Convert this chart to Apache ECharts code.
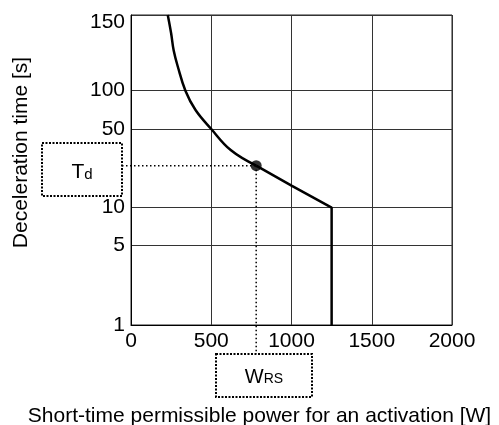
<!DOCTYPE html>
<html>
<head>
<meta charset="utf-8">
<script src="https://cdn.jsdelivr.net/npm/echarts@6/dist/echarts.min.js"></script>
<style>
html,body{margin:0;padding:0;background:#fff;}
#chart{width:499px;height:425px;}
</style>
</head>
<body>
<div id="chart"></div>
<script>
// ---- data ----
const xTicks = [0, 500, 1000, 1500, 2000];
const yTicks = [1, 5, 10, 50, 100, 150];
// curved part of the characteristic (W, s)
const curvePower = [229, 250, 266, 291, 339, 402, 500, 621, 780];
const curveTime  = [150, 136, 124, 114, 100, 70.5, 50, 32.5, 23.6];
// straight tail down to the power limit
const tailPower = [780, 1000, 1250, 1250];
const tailTime  = [23.6, 15.7, 10, 1];
// operating point
const pointPower = [780];
const pointTime  = [23.6];

// ---- custom (piecewise-log) y scale of the original figure ----
const scaleV = [1, 5, 10, 50, 100, 150];
const scaleP = [0, 79.7, 117.3, 196, 234.3, 310];
function tr(v) {
  let i = 0;
  while (i < scaleV.length - 2 && v > scaleV[i + 1]) i++;
  const f = (Math.log(v) - Math.log(scaleV[i])) / (Math.log(scaleV[i + 1]) - Math.log(scaleV[i]));
  return scaleP[i] + (scaleP[i + 1] - scaleP[i]) * f;
}
function pairs(xs, ys) { return xs.map((x, i) => [x, tr(ys[i])]); }

const FONT = 'Liberation Sans, Arial, sans-serif';
const chart = echarts.init(document.getElementById('chart'), null, {renderer: 'canvas'});

chart.setOption({
  animation: false,
  backgroundColor: '#fff',
  grid: {left: 131, right: 47, top: 15, bottom: 100, show: true, borderColor: '#222', borderWidth: 1,
    containLabel: false, outerBoundsMode: 'none'},
  xAxis: {
    type: 'value', min: 0, max: 2000, interval: 500,
    name: 'Short-time permissible power for an activation [W]',
    nameLocation: 'middle', nameGap: 81,
    nameTextStyle: {fontFamily: FONT, fontSize: 21, color: '#000', padding: [0, 64, 0, 0]},
    axisLine: {show: true, lineStyle: {color: '#000', width: 1}},
    axisTick: {show: false},
    axisLabel: {fontFamily: FONT, fontSize: 21, color: '#000', margin: 6,
      customValues: xTicks, formatter: v => String(v)},
    splitLine: {show: true, lineStyle: {color: '#333', width: 1}}
  },
  yAxis: {
    type: 'value', min: 0, max: 310,
    name: 'Deceleration time [s]',
    nameLocation: 'middle', nameGap: 99, nameRotate: 90,
    nameTextStyle: {fontFamily: FONT, fontSize: 21, color: '#000', padding: [0, 0, 0, 35]},
    axisLine: {show: true, lineStyle: {color: '#000', width: 1}},
    axisTick: {show: false, customValues: yTicks.map(tr)},
    axisLabel: {
      fontFamily: FONT, fontSize: 21, color: '#000', margin: 6,
      customValues: yTicks.map(tr),
      formatter: function (val) {
        let best = 0, bd = 1e9;
        yTicks.forEach((t, i) => { const d = Math.abs(tr(t) - val); if (d < bd) { bd = d; best = i; } });
        const t = yTicks[best];
        return t === yTicks[yTicks.length - 1] ? '{top|' + t + '}' : String(t);
      },
      rich: {top: {fontFamily: FONT, fontSize: 21, color: '#000', padding: [14, 0, 0, 0]}}
    },
    splitLine: {show: true, lineStyle: {color: '#333', width: 1}}
  },
  series: [
    {
      type: 'line', data: pairs(curvePower, curveTime), smooth: 0.4,
      symbol: 'none', lineStyle: {color: '#000', width: 2.5}, z: 5
    },
    {
      type: 'line', data: pairs(tailPower, tailTime), smooth: false,
      symbol: 'none', lineStyle: {color: '#000', width: 2.5}, z: 5
    },
    {
      type: 'scatter', data: pairs(pointPower, pointTime),
      symbol: 'circle', symbolSize: 11, itemStyle: {color: '#000'}, z: 6
    }
  ]
});

// ---- annotation boxes and dotted guides, anchored on the operating point ----
const p = chart.convertToPixel({xAxisIndex: 0, yAxisIndex: 0}, [pointPower[0], tr(pointTime[0])]);
const boxTd = {x: 42, y: 143, w: 80, h: 53};
const boxW = {x: 216, y: 354, w: 96, h: 43};
const dotted = {stroke: '#000', lineWidth: 1.5, lineDash: [1.5, 2.5], fill: null};
const boxStyle = {stroke: '#000', lineWidth: 2, lineDash: [2, 1.5], fill: null};
chart.setOption({
  graphic: [
    {type: 'line', shape: {x1: boxTd.x + boxTd.w, y1: p[1], x2: p[0], y2: p[1]}, style: dotted, z: 3},
    {type: 'line', shape: {x1: p[0], y1: p[1], x2: p[0], y2: boxW.y}, style: dotted, z: 3},
    {type: 'rect', shape: {x: boxTd.x, y: boxTd.y, width: boxTd.w, height: boxTd.h}, style: boxStyle, z: 3},
    {type: 'rect', shape: {x: boxW.x, y: boxW.y, width: boxW.w, height: boxW.h}, style: boxStyle, z: 3},
    {type: 'text', x: boxTd.x + boxTd.w / 2, y: boxTd.y + boxTd.h / 2 + 3, z: 4,
      style: {text: '{a|T}{b|d}', align: 'center', verticalAlign: 'middle',
        rich: {a: {fontFamily: FONT, fontSize: 21, fill: '#000', verticalAlign: 'bottom'},
               b: {fontFamily: FONT, fontSize: 15, fill: '#000', verticalAlign: 'bottom', padding: [0, 0, 1, 0]}}}},
    {type: 'text', x: boxW.x + boxW.w / 2, y: boxW.y + boxW.h / 2 + 2, z: 4,
      style: {text: '{a|W}{b|RS}', align: 'center', verticalAlign: 'middle',
        rich: {a: {fontFamily: FONT, fontSize: 20, fill: '#000', verticalAlign: 'bottom'},
               b: {fontFamily: FONT, fontSize: 14, fill: '#000', verticalAlign: 'bottom', padding: [0, 0, 1, 0]}}}}
  ]
});
</script>
</body>
</html>
